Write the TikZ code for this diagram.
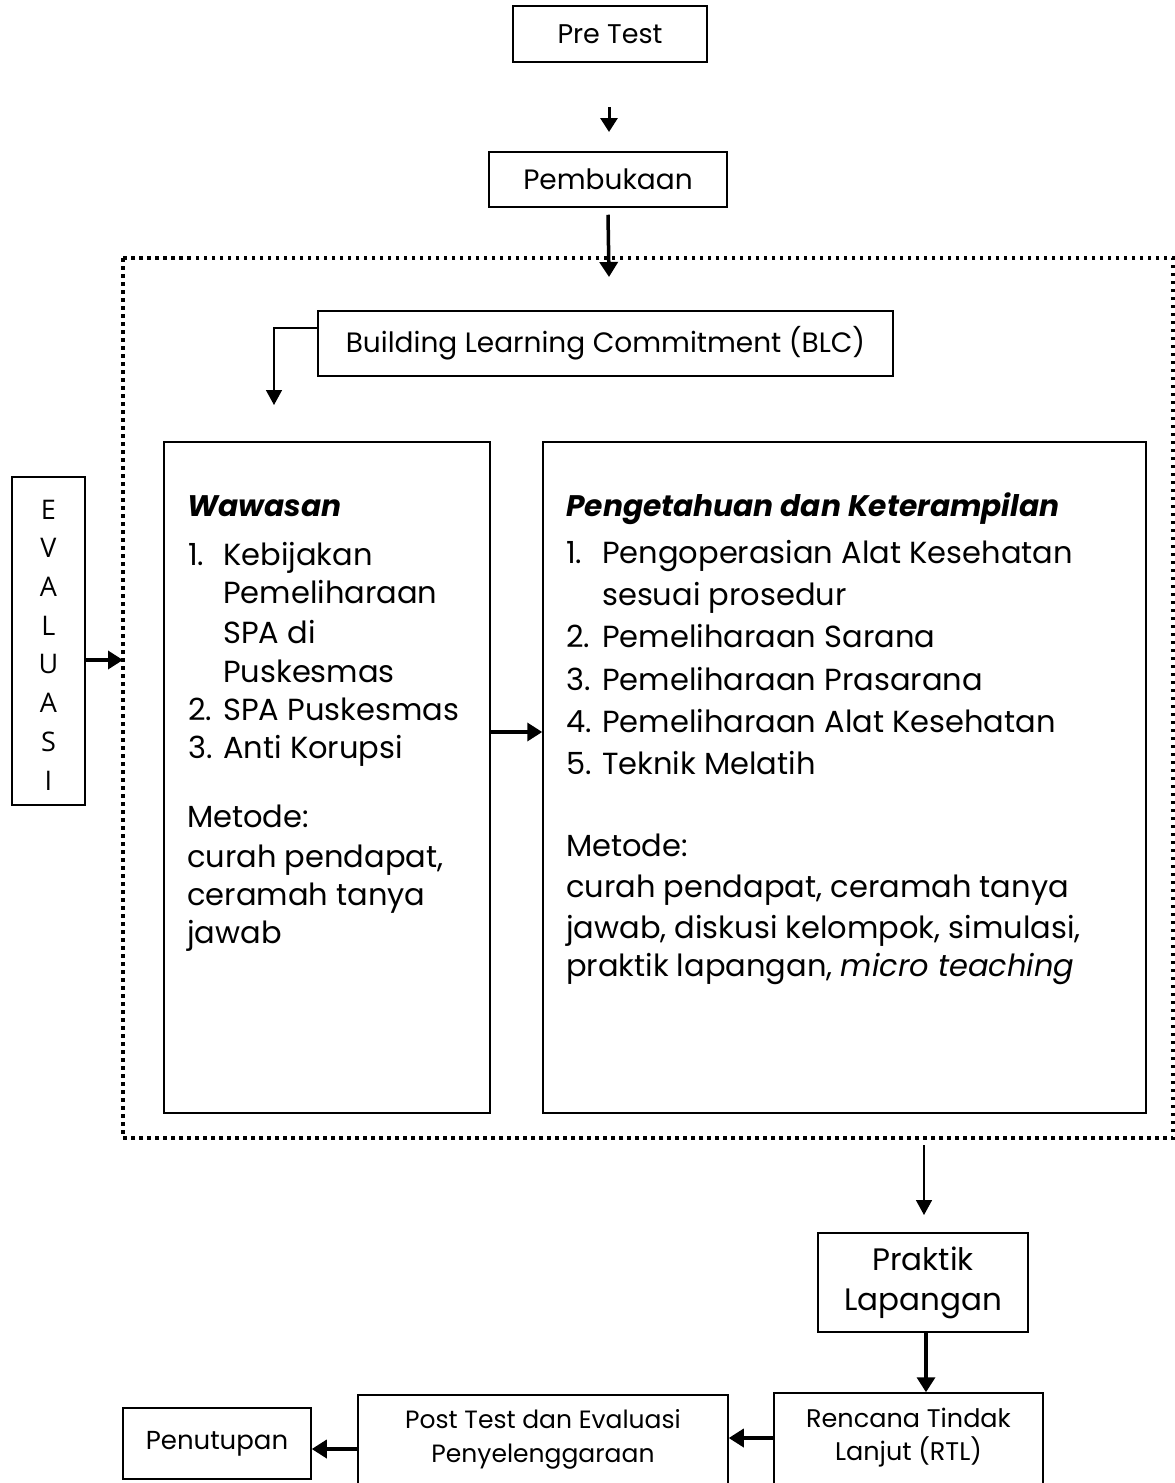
\documentclass[tikz,border=0pt]{standalone}
\usepackage{fontspec}
\newfontfamily\evalfont{Open Sans}
\newfontfamily\cgf{Poppins}
\usetikzlibrary{arrows.meta}
\tikzset{
  x=1pt,y=-1pt,
  box/.style={draw,line width=1.5pt,inner sep=0pt,align=center},
  tarrow/.style={line width=1.5pt,-{Triangle[length=15pt,width=16pt]}},
  karrow/.style={line width=3.5pt,-{Triangle[length=15pt,width=18pt]}},
  bt/.style={font=\cgf\fontsize{30.5}{38}\selectfont,inner sep=0pt,anchor=base west},
  hd/.style={font=\cgf\fontsize{29.7}{38}\selectfont\bfseries\itshape,inner sep=0pt,anchor=base west},
}
\begin{document}
\begin{tikzpicture}
\useasboundingbox (0,0) rectangle (1175,1483);
\clip (0,0) rectangle (1175,1483);
% top boxes
\node[box,minimum width=194pt,minimum height=56pt,font=\cgf\fontsize{27}{34}\selectfont] (pre) at (610,34) {Pre Test};
\coordinate (a1s) at (609,107);
\coordinate (a1e) at (609,132);
\draw[line width=3pt,-{Triangle[length=14pt,width=17pt]}] (a1s) -- (a1e);
\node[box,minimum width=238pt,minimum height=55pt,font=\cgf\fontsize{28}{34}\selectfont] (pemb) at (608,179.5) {Pembukaan};
\coordinate (a2e) at (609,277);
% dotted frame
\draw[line width=3.5pt,dash pattern=on 3.5pt off 4.5pt] (123,258) rectangle (1173,1138);
\draw[karrow] ([yshift=-7pt]pemb.south) -- (a2e);
% BLC
\node[box,minimum width=575pt,minimum height=65pt,font=\cgf\fontsize{28}{34}\selectfont] (blc) at (605.5,343.5) {Building Learning Commitment (BLC)};
\coordinate (bc) at (274,328);
\coordinate (be) at (274,405);
\draw[tarrow] (blc.west |- bc) -- (bc) -- (be);
% main boxes
\node[box,minimum width=326pt,minimum height=671pt] (waw) at (327,777.5) {};
\node[box,minimum width=603pt,minimum height=671pt] (peng) at (844.5,777.5) {};
\coordinate (mid) at (0,732);
\draw[karrow] (waw.east |- mid) -- (peng.west |- mid);
% Wawasan text
\node[hd] (w0) at (187,516) {Wawasan};
\node[bt] (w1n) at (188,565) {1.};
\node[bt] (w1) at (223,565) {Kebijakan};
\node[bt] (w2) at (223,603) {Pemeliharaan};
\node[bt] (w3) at (223,643) {SPA di};
\node[bt] (w4) at (223,682) {Puskesmas};
\node[bt] (w5n) at (188,720) {2.};
\node[bt] (w5) at (223,720) {SPA Puskesmas};
\node[bt] (w6n) at (188,758) {3.};
\node[bt] (w6) at (223,758) {Anti Korupsi};
\node[bt] (w7) at (187,827) {Metode:};
\node[bt] (w8) at (187,867) {curah pendapat,};
\node[bt] (w9) at (187,905) {ceramah tanya};
\node[bt] (w10) at (187,943) {jawab};
% Pengetahuan text
\node[hd] (p0) at (566,516) {Pengetahuan dan Keterampilan};
\node[bt] (p1n) at (566,563) {1.};
\node[bt] (p1) at (602,563) {Pengoperasian Alat Kesehatan};
\node[bt] (p2) at (602,605) {sesuai prosedur};
\node[bt] (p3n) at (566,647) {2.};
\node[bt] (p3) at (602,647) {Pemeliharaan Sarana};
\node[bt] (p4n) at (566,690) {3.};
\node[bt] (p4) at (602,690) {Pemeliharaan Prasarana};
\node[bt] (p5n) at (566,732) {4.};
\node[bt] (p5) at (602,732) {Pemeliharaan Alat Kesehatan};
\node[bt] (p6n) at (566,774) {5.};
\node[bt] (p6) at (602,774) {Teknik Melatih};
\node[bt] (p7) at (566,856) {Metode:};
\node[bt] (p8) at (566,897) {curah pendapat, ceramah tanya};
\node[bt] (p9) at (566,938) {jawab, diskusi kelompok, simulasi,};
\node[bt] (p10) at (566,976) {praktik lapangan, \textit{micro teaching}};
% EVALUASI
\node[box,minimum width=73pt,minimum height=328pt] (eval) at (48.5,641) {};
\node[inner sep=0pt,align=center,font=\evalfont\fontsize{27}{38.7}\selectfont] (evt) at (48.5,645) {E\\V\\A\\L\\U\\A\\S\\I};
\coordinate (ev) at (0,660);
\coordinate (evend) at (123,660);
\draw[karrow] (eval.east |- ev) -- (evend);
% bottom
\coordinate (d1s) at (924,1145);
\coordinate (d1e) at (924,1215);
\draw[tarrow] (d1s) -- (d1e);
\node[box,minimum width=210pt,minimum height=99pt,font=\cgf\fontsize{31}{40}\selectfont] (prak) at (923,1282.5) {Praktik\\Lapangan};
\node[box,minimum width=269pt,minimum height=117pt] (rtl) at (908.5,1451.5) {};
\node[inner sep=0pt,align=center,font=\cgf\fontsize{25.5}{33}\selectfont] (rtlt) at (908.5,1438) {Rencana Tindak\\Lanjut (RTL)};
\coordinate (pk) at (926,0);
\draw[karrow] (prak.south -| pk) -- (rtl.north -| pk);
\node[box,minimum width=370pt,minimum height=115pt] (post) at (543,1452.5) {};
\node[inner sep=0pt,align=center,font=\cgf\fontsize{25}{34}\selectfont] (postt) at (543,1439) {Post Test dan Evaluasi\\Penyelenggaraan};
\coordinate (r1) at (0,1438);
\draw[karrow] (rtl.west |- r1) -- (post.east |- r1);
\node[box,minimum width=188pt,minimum height=71pt,font=\cgf\fontsize{26}{32}\selectfont] (pen) at (217,1443.5) {Penutupan};
\coordinate (r2) at (0,1449);
\draw[karrow] (post.west |- r2) -- (pen.east |- r2);
\end{tikzpicture}
\end{document}
